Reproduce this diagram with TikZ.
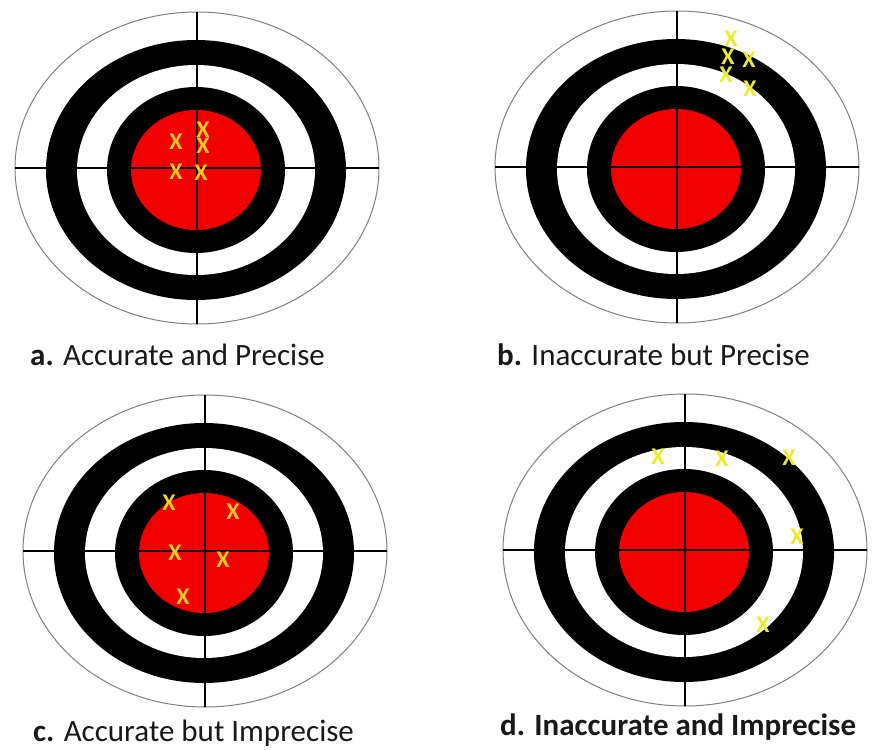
\documentclass[tikz,border=0pt]{standalone}
\usepackage{fontspec}
\setmainfont{Carlito}
\usepackage{xcolor}
\usepackage{tikz}
\usetikzlibrary{positioning,calc}
\definecolor{bullred}{HTML}{F20000}
\definecolor{rimgray}{HTML}{808080}
\definecolor{hitorange}{HTML}{F5CC1E}
\definecolor{hityellow}{HTML}{ECEC2A}

\begin{document}
\begin{tikzpicture}[x=1pt,y=-1pt,
  rim/.style={draw=rimgray,line width=1pt,fill=white},
  cross/.style={line width=1.5pt,black},
  hit/.style={font=\fontsize{24}{24}\selectfont\bfseries,inner sep=0pt},
  lab/.style={font=\fontsize{31}{34}\selectfont,anchor=base west,inner sep=0pt,text=black!90}
]
\useasboundingbox[fill=white] (0,0) rectangle (880,749);
\foreach \n/\cx/\cy in {a/197/168,b/677/167,c/205/551,d/685/550}{
  \coordinate (\n) at (\cx,\cy);
  \coordinate (\n0) at (\cx-1,\cy+2);
  \draw[rim] (\n) ellipse [x radius=182,y radius=156];
  \fill[black] (\n0) ellipse [x radius=150,y radius=130];
  \fill[white] (\n0) ellipse [x radius=119,y radius=105];
  \fill[black] (\n0) ellipse [x radius=89,y radius=83];
  \fill[bullred] (\n0) ellipse [x radius=65,y radius=60];
  \draw[cross] ([xshift=-182pt]\n) -- ([xshift=182pt]\n);
  \draw[cross] ([yshift=156pt]\n) -- ([yshift=-156pt]\n);
}
\foreach \i/\x/\y in {1/176/142,2/203/130,3/203/146,4/176/172,5/201/173}{\node[hit,text=hitorange] (a\i) at (\x,\y) {X};}
\foreach \i/\x/\y in {1/731/39,2/728/57,3/749/60,4/726/75,5/750/89}{\node[hit,text=hityellow] (b\i) at (\x,\y) {X};}
\foreach \i/\x/\y in {1/169/503,2/233/512,3/175/553,4/223/560,5/183/597}{\node[hit,text=hitorange] (c\i) at (\x,\y) {X};}
\foreach \i/\x/\y in {1/658/457,2/722/459,3/789/458,4/797/537,5/763/625}{\node[hit,text=hityellow] (d\i) at (\x,\y) {X};}
\node[lab] (laba) at (30,365) {\textbf{a.} Accurate and Precise};
\node[lab] (labb) at (497,365) {\textbf{b.} Inaccurate but Precise};
\node[lab] (labc) at (33,741) {\textbf{c.} Accurate but Imprecise};
\node[lab] (labd) at (500,735) {\textbf{d. Inaccurate and Imprecise}};
\end{tikzpicture}
\end{document}
